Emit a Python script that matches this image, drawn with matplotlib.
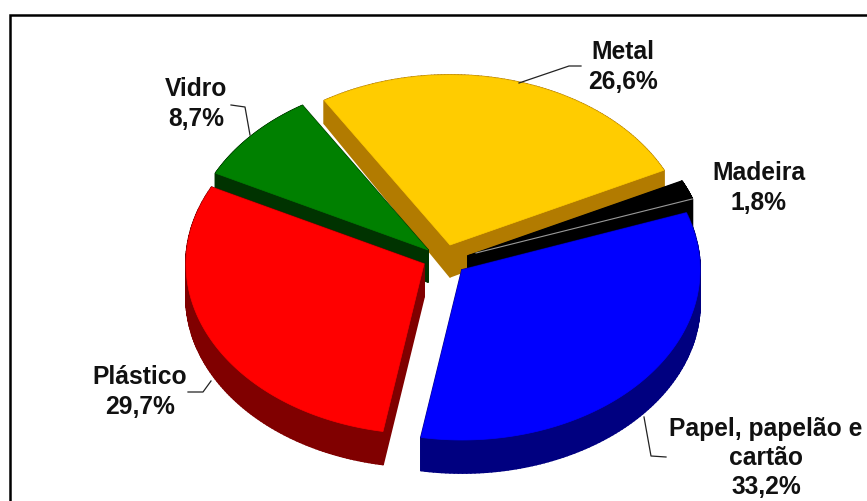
"""Exploded 3D-style pie of waste composition, drawn with plain polygons."""

import matplotlib

matplotlib.use("Agg")
import matplotlib.pyplot as plt
import numpy as np
from matplotlib.collections import PolyCollection
from matplotlib.patches import Polygon

plt.rcParams["font.family"] = ["Liberation Sans", "DejaVu Sans"]

W, H = 867, 501

# clockwise from the start angle
categories = ["Papel, papelão e\ncartão", "Plástico", "Vidro", "Metal", "Madeira"]
values = [33.2, 29.7, 8.7, 26.6, 1.8]
top_colors = ["#0000ff", "#ff0000", "#008000", "#ffcc00", "#000000"]
side_colors = ["#000080", "#800000", "#003300", "#b27b00", "#000000"]

START_ANGLE = 19.6
RX, RY = 238, 170
apexes = {
    "Papel, papelão e\ncartão": (462, 270),
    "Plástico": (424, 264),
    "Vidro": (428, 250),
    "Metal": (450, 245),
    "Madeira": (468, 256),
}
draw_order = [3, 4, 2, 1, 0]

label_pos = {
    "Papel, papelão e\ncartão": (766, 458),
    "Plástico": (140, 392),
    "Vidro": (196, 104),
    "Metal": (623, 67),
    "Madeira": (759, 188),
}
leaders = {
    "Papel, papelão e\ncartão": [(644, 417), (651, 456), (666, 457)],
    "Plástico": [(188, 392), (203, 392), (211, 381)],
    "Vidro": [(231, 105), (245, 107), (250, 135)],
    "Metal": [(581, 66), (569, 66), (519, 83)],
}


def depth(y):
    # the far rim of the pie looks a little thinner than the near one
    return np.clip(23 + (y - 100) * 0.06, 23, 33)


def slice_outline(cx, cy, a0, a1):
    t = np.radians(np.linspace(a0, a1, 120))
    xs = np.r_[cx, cx + RX * np.cos(t)]
    ys = np.r_[cy, cy - RY * np.sin(t)]
    return np.column_stack([xs, ys])


fig = plt.figure(figsize=(W / 100, H / 100), dpi=100)
ax = fig.add_axes([0, 0, 1, 1])
ax.set_xlim(0, W)
ax.set_ylim(H, 0)
ax.axis("off")

# frame runs off the right and bottom edges
ax.plot([9.5, 9.5, W], [H, 15, 15], color="black", lw=1.8, solid_joinstyle="miter")

ends = START_ANGLE - np.cumsum(np.array(values) / sum(values) * 360)
starts = np.r_[START_ANGLE, ends[:-1]]

for i in draw_order:
    name = categories[i]
    cx, cy = apexes[name]
    pts = slice_outline(cx, cy, starts[i], ends[i])
    nxt = np.roll(pts, -1, axis=0)
    low, low_nxt = pts.copy(), nxt.copy()
    low[:, 1] += depth(pts[:, 1])
    low_nxt[:, 1] += depth(nxt[:, 1])
    quads = [[p, q, r, s] for p, q, r, s in zip(pts, nxt, low_nxt, low)]
    ax.add_collection(
        PolyCollection(quads, facecolors=side_colors[i], edgecolors=side_colors[i], lw=1.3)
    )
    ax.add_patch(Polygon(pts, closed=True, fc=top_colors[i], ec=top_colors[i], lw=0.5))
    if name == "Madeira":
        # pale seam between the black top and its cut face
        ax.plot([cx + 8, pts[-1, 0]], [cy - 3, pts[-1, 1]], color="#9a9a9a", lw=0.8)

for i, name in enumerate(categories):
    x, y = label_pos[name]
    pct = f"{values[i]:.1f}".replace(".", ",")
    ax.text(x, y, f"{name}\n{pct}%", ha="center", va="center", fontsize=17.7,
            fontweight="bold", color="#111111", linespacing=1.28)

for path in leaders.values():
    xs, ys = zip(*path)
    ax.plot(xs, ys, color="#222222", lw=0.9)

fig.savefig("out.png", dpi=100)
